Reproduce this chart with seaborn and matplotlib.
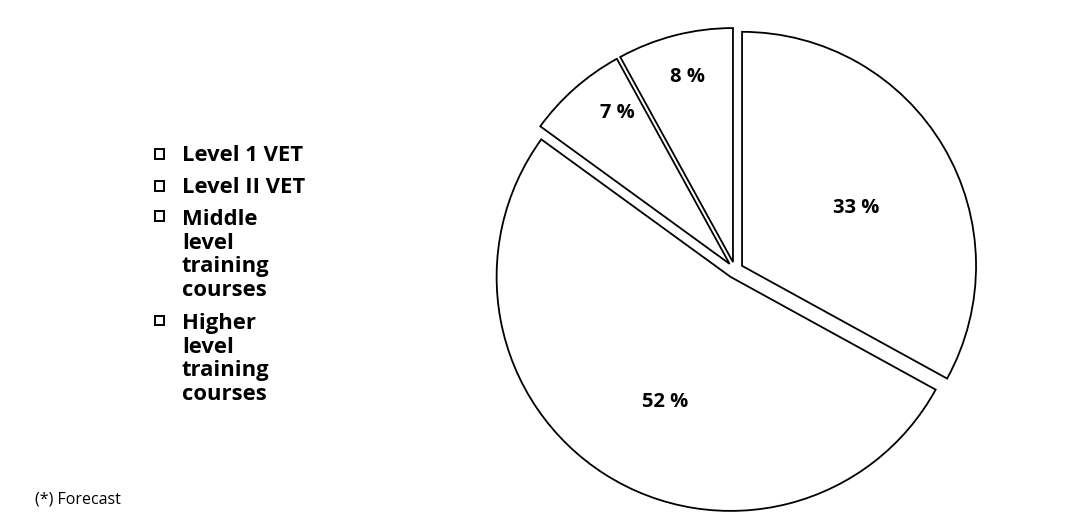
import matplotlib
matplotlib.use("Agg")
import matplotlib.pyplot as plt
import seaborn as sns
from matplotlib.patches import Rectangle

# Shares of training levels (percent), clockwise from 12 o'clock
categories = ["Higher level training courses", "Level 1 VET",
              "Level II VET", "Middle level training courses"]
shares = [33, 52, 7, 8]
legend_labels = ["Level 1 VET", "Level II VET",
                 "Middle\nlevel\ntraining\ncourses",
                 "Higher\nlevel\ntraining\ncourses"]
footnote = "(*) Forecast"

sns.set_theme(style="white")
plt.rcParams["font.family"] = ["Open Sans", "DejaVu Sans"]

W, H = 1088, 519
fig = plt.figure(figsize=(W / 100, H / 100), dpi=100)
fig.patch.set_facecolor("white")

# pie axes: centre and radius in pixels
cx, cy, R = 735, 270, 234
ax = fig.add_axes([(cx - R) / W, 1 - (cy + R) / H, 2 * R / W, 2 * R / H])

wedges, texts, autotexts = ax.pie(
    shares,
    startangle=90,
    counterclock=False,
    explode=[0.035] * len(shares),
    colors=["white"] * len(shares),
    wedgeprops=dict(edgecolor="black", linewidth=1.3),
    autopct=lambda p: f"{p:.0f} %",
    textprops=dict(fontsize=14.5, fontweight="bold", color="black"),
    radius=1.0,
)
ax.set_xlim(-1, 1)
ax.set_ylim(-1, 1)
ax.set_aspect("equal")
ax.axis("off")
for w in wedges:
    w.set_clip_on(False)

label_pos = [(0.517, 0.267), (-0.30, -0.565), (-0.504, 0.672), (-0.203, 0.823)]
for t, (px, py) in zip(autotexts, label_pos):
    t.set_position((px, py))
    t.set_ha("center")
    t.set_va("center")

# legend: open squares with wrapped bold labels
entry_y = [154, 186, 216, 320]
text_y = [154, 186, 218, 322]
sq = 9
for y, ty, lab in zip(entry_y, text_y, legend_labels):
    fig.patches.append(Rectangle((155 / W, 1 - (y + sq / 2) / H), sq / W, sq / H,
                                 transform=fig.transFigure, facecolor="white",
                                 edgecolor="black", linewidth=1.4))
    fig.text(182 / W, 1 - (ty - 9) / H, lab, fontsize=15.8, fontweight="bold",
             ha="left", va="top", linespacing=1.17, color="black")

fig.text(35 / W, 1 - 500 / H, footnote, fontsize=11.5, ha="left", va="center",
         color="black")

fig.savefig("out.png", dpi=100, facecolor="white")
